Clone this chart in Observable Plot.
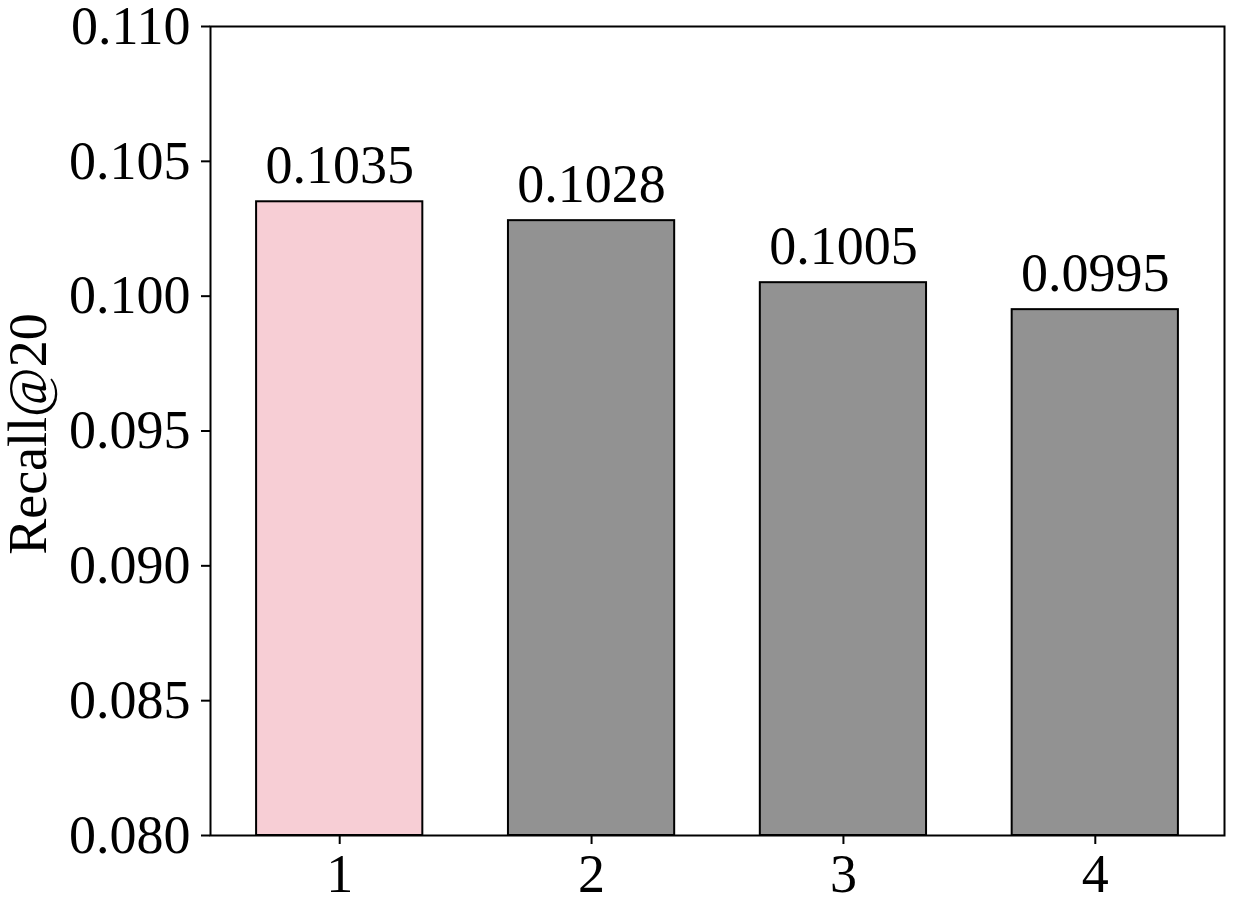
<!DOCTYPE html>
<html>
<head>
<meta charset="utf-8">
<script src="https://cdn.jsdelivr.net/npm/d3@7"></script>
<script src="https://cdn.jsdelivr.net/npm/@observablehq/plot@0.6"></script>
<style>
  html, body { margin: 0; padding: 0; background: #fff; }
  #chart svg { display: block; overflow: visible; }
</style>
</head>
<body>
<div id="chart"></div>
<script>
const categories = ["1", "2", "3", "4"];
const values = [0.1035, 0.1028, 0.1005, 0.0995];
const labels = ["0.1035", "0.1028", "0.1005", "0.0995"];
const colors = ["#f7ced5", "#929292", "#929292", "#929292"];
const yTicks = [0.080, 0.085, 0.090, 0.095, 0.100, 0.105, 0.110];
const yLabel = "Recall@20";

const data = categories.map((c, i) => ({cat: c, value: values[i], label: labels[i], color: colors[i]}));

const font = "'Liberation Serif', 'Times New Roman', serif";

const chart = Plot.plot({
  width: 1234,
  height: 904,
  marginLeft: 210,
  marginRight: 10,
  marginTop: 26,
  marginBottom: 69,
  style: {fontFamily: font, fontSize: "54px", color: "#000", background: "#fff"},
  x: {domain: categories, paddingInner: 0.34, paddingOuter: 0.183, round: false, label: null},
  y: {domain: [0.080, 0.110], label: null},
  marks: [
    Plot.barY(data, {x: "cat", y1: 0.080, y2: "value", fill: "color", stroke: "#000", strokeWidth: 2}),
    Plot.text(data, {x: "cat", y: "value", text: "label", lineAnchor: "bottom", dy: -19, fontSize: 54, fill: "#000"}),
    Plot.axisY({ticks: yTicks, tickFormat: d3.format(".3f"), tickSize: 9, tickPadding: 11, strokeWidth: 2, fontSize: 54, label: null}),
    Plot.axisX({tickSize: 9, tickPadding: 9, strokeWidth: 2, fontSize: 54, label: null}),
    Plot.text([yLabel], {frameAnchor: "left", text: d => d, rotate: -90, textAnchor: "middle", dx: -182, dy: 3, lineAnchor: "middle", fontSize: 54, fill: "#000"}),
    Plot.frame({stroke: "#000", strokeWidth: 2})
  ]
});
document.getElementById("chart").appendChild(chart);
</script>
</body>
</html>
